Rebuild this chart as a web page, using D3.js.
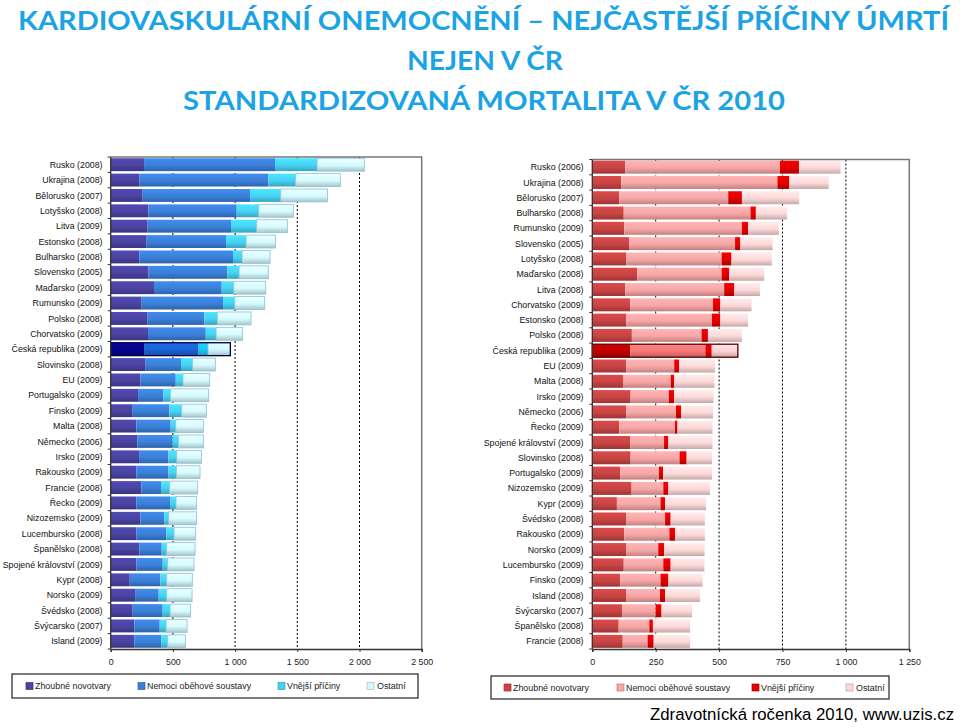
<!DOCTYPE html>
<html><head><meta charset="utf-8">
<script src="https://cdn.jsdelivr.net/npm/d3@7"></script>
<style>body{margin:0;background:#fff}svg{display:block}</style>
</head><body>
<script>
// ---------- DATA ----------
const titleLines = ["KARDIOVASKULÁRNÍ ONEMOCNĚNÍ – NEJČASTĚJŠÍ PŘÍČINY ÚMRTÍ", "NEJEN V ČR", "STANDARDIZOVANÁ MORTALITA V ČR 2010"];
const sourceText = "Zdravotnícká ročenka 2010, www.uzis.cz";
const seriesNames = ["Zhoubné novotvary", "Nemoci oběhové soustavy", "Vnější příčiny", "Ostatní"];
const highlightCountry = "Česká republika (2009)";

// Left panel
const leftCountries = ["Rusko (2008)","Ukrajina (2008)","Bělorusko (2007)","Lotyšsko (2008)","Litva (2009)","Estonsko (2008)","Bulharsko (2008)","Slovensko (2005)","Maďarsko (2009)","Rumunsko (2009)","Polsko (2008)","Chorvatsko (2009)","Česká republika (2009)","Slovinsko (2008)","EU (2009)","Portugalsko (2009)","Finsko (2009)","Malta (2008)","Německo (2006)","Irsko (2009)","Rakousko (2009)","Francie (2008)","Řecko (2009)","Nizozemsko (2009)","Lucembursko (2008)","Španělsko (2008)","Spojené království (2009)","Kypr (2008)","Norsko (2009)","Švédsko (2008)","Švýcarsko (2007)","Island (2009)"];
const leftZhoubne = [268,230,257,303,297,289,230,303,348,249,297,300,273,281,238,220,177,206,214,228,206,247,206,238,206,230,206,153,196,177,190,190];
const leftNemoci  = [1053,1037,863,710,670,638,753,635,544,654,456,464,434,284,285,203,295,276,284,236,258,158,271,193,241,180,212,246,190,241,204,215];
const leftVnejsi  = [338,220,247,177,207,161,73,94,97,94,104,83,75,94,58,57,99,41,46,67,64,69,48,35,62,40,40,51,64,59,51,53];
const leftOstatni = [380,359,375,278,246,236,225,235,257,241,271,214,180,182,215,308,198,222,201,198,190,225,166,225,174,228,212,206,204,166,169,142];
const leftTicks = [0,500,1000,1500,2000,2500];

// Right panel
const rightCountries = ["Rusko (2006)","Ukrajina (2008)","Bělorusko (2007)","Bulharsko (2008)","Rumunsko (2009)","Slovensko (2005)","Lotyšsko (2008)","Maďarsko (2008)","Litva (2008)","Chorvatsko (2009)","Estonsko (2008)","Polsko (2008)","Česká republika (2009)","EU (2009)","Malta (2008)","Irsko (2009)","Německo (2006)","Řecko (2009)","Spojené království (2009)","Slovinsko (2008)","Portugalsko (2009)","Nizozemsko (2009)","Kypr (2009)","Švédsko (2008)","Rakousko (2009)","Norsko (2009)","Lucembursko (2009)","Finsko (2009)","Island (2008)","Švýcarsko (2007)","Španělsko (2008)","Francie (2008)"];
const rightZhoubne = [130,114,106,124,126,145,134,177,130,149,134,156,150,134,121,151,134,106,149,151,110,155,97,133,126,133,124,110,133,117,104,120];
const rightNemoci  = [610,616,430,500,464,418,376,333,390,327,338,275,296,189,188,151,196,220,134,193,153,125,172,154,178,127,156,159,134,133,121,98];
const rightVnejsi  = [75,47,54,21,24,21,39,30,40,29,33,25,25,20,14,21,20,10,17,28,16,20,18,22,23,23,29,31,20,23,14,24];
const rightOstatni = [164,155,226,123,122,127,159,138,101,123,109,134,103,141,159,155,126,138,174,100,193,164,161,135,117,160,133,135,138,120,147,144];
const rightTicks = [0,250,500,750,1000,1250];
</script>
<script>
const W = 960, H = 728;
const svg = d3.select("body").append("svg").attr("width", W).attr("height", H);
const defs = svg.append("defs");
const fmt = d3.formatLocale({decimal: ",", thousands: "\u00a0", grouping: [3], currency: ["", ""]}).format(",");
const labelFont = "'Liberation Sans', Arial, sans-serif";

let gradCount = 0;
function grad(c) {
  const id = "g" + (gradCount++);
  const lg = defs.append("linearGradient").attr("id", id).attr("x1", 0).attr("y1", 0).attr("x2", 0).attr("y2", 1);
  lg.append("stop").attr("offset", "0%").attr("stop-color", d3.color(c).brighter(0.25));
  lg.append("stop").attr("offset", "55%").attr("stop-color", c);
  lg.append("stop").attr("offset", "100%").attr("stop-color", d3.color(c).darker(0.7));
  return "url(#" + id + ")";
}

// Title
const titleG = svg.append("g").attr("font-family", "Lato, 'Open Sans', sans-serif").attr("font-weight", "bold").attr("fill", "#1ba3e4");
titleG.append("text").attr("x", 18).attr("y", 29.5).attr("font-size", 27.5).attr("textLength", 931).attr("lengthAdjust", "spacingAndGlyphs").text(titleLines[0]);
titleG.append("text").attr("x", 407).attr("y", 70).attr("font-size", 27.5).attr("textLength", 156).attr("lengthAdjust", "spacingAndGlyphs").text(titleLines[1]);
titleG.append("text").attr("x", 183).attr("y", 110).attr("font-size", 27.5).attr("textLength", 602).attr("lengthAdjust", "spacingAndGlyphs").text(titleLines[2]);

svg.append("text").attr("x", 650).attr("y", 720).attr("font-family", labelFont).attr("font-size", 16.8)
  .attr("fill", "#000").text(sourceText);

function panel(o) {
  const n = o.countries.length;
  const rows = o.countries.map((c, i) => ({country: c, s0: o.series[0][i], s1: o.series[1][i], s2: o.series[2][i], s3: o.series[3][i]}));
  const keys = ["s0", "s1", "s2", "s3"];
  const stack = d3.stack().keys(keys)(rows);
  const x = d3.scaleLinear().domain([0, o.ticks[o.ticks.length - 1]]).range([o.x0, o.x1]);
  const y = d3.scaleBand().domain(o.countries).range([o.y0, o.y1]).paddingInner(o.pad).paddingOuter(o.pad / 2);
  const g = svg.append("g");

  g.selectAll("line.grid").data(o.ticks.slice(1, -1)).join("line")
    .attr("x1", d => x(d)).attr("x2", d => x(d)).attr("y1", o.y0).attr("y2", o.y1)
    .attr("stroke", "#000").attr("stroke-width", 1).attr("stroke-dasharray", "2,2");

  const fills = o.colors.map(grad);
  const hiFills = o.hiColors.map(grad);

  stack.forEach((layer, k) => {
    g.selectAll(null).data(layer).join("rect")
      .attr("x", d => x(d[0])).attr("width", d => x(d[1]) - x(d[0]))
      .attr("y", d => y(d.data.country)).attr("height", y.bandwidth())
      .attr("fill", d => d.data.country === o.highlight ? hiFills[k] : fills[k])
      .attr("stroke", k === 3 ? o.lastStroke : "none").attr("stroke-width", 0.8);
  });
  const hr = rows.find(r => r.country === o.highlight);
  g.append("rect").attr("x", x(0)).attr("y", y(hr.country))
    .attr("width", x(hr.s0 + hr.s1 + hr.s2 + hr.s3) - x(0)).attr("height", y.bandwidth())
    .attr("fill", "none").attr("stroke", o.hiStroke).attr("stroke-width", 1.3);

  g.append("path").attr("d", `M${o.x0},${o.y0}H${o.x1}V${o.y1}`).attr("fill", "none").attr("stroke", "#777").attr("stroke-width", 1.5);

  const xa = g.append("g").attr("transform", `translate(0,${o.y1})`)
    .call(d3.axisBottom(x).tickValues(o.ticks).tickFormat(fmt).tickSize(3).tickPadding(7));
  xa.select(".domain").attr("stroke", "#333").attr("stroke-width", 1.3);
  xa.selectAll(".tick line").attr("stroke", "#333");
  xa.selectAll("text").attr("font-family", labelFont).attr("font-size", 8.8).attr("fill", "#222");

  g.append("line").attr("x1", o.x0).attr("x2", o.x0).attr("y1", o.y0).attr("y2", o.y1).attr("stroke", "#333").attr("stroke-width", 1.3);
  g.selectAll("line.yt").data(d3.range(n + 1)).join("line")
    .attr("x1", o.x0 - 3).attr("x2", o.x0).attr("y1", i => o.y0 + i * y.step()).attr("y2", i => o.y0 + i * y.step())
    .attr("stroke", "#333");

  const clipId = "clip" + o.id;
  defs.append("clipPath").attr("id", clipId).append("rect").attr("x", o.clipX).attr("y", 0).attr("width", 480).attr("height", H);
  g.append("g").attr("clip-path", `url(#${clipId})`).selectAll("text").data(o.countries).join("text")
    .attr("x", o.labelX).attr("y", d => y(d) + y.bandwidth() / 2).attr("dy", "0.35em")
    .attr("text-anchor", "end").attr("font-family", labelFont).attr("font-size", 8.8).attr("fill", "#111")
    .text(d => d);

  const lg = svg.append("g");
  lg.append("rect").attr("x", o.leg.x).attr("y", o.leg.y).attr("width", o.leg.w).attr("height", o.leg.h)
    .attr("fill", "#fff").attr("stroke", "#222").attr("stroke-width", 1.2);
  seriesNames.forEach((s, k) => {
    lg.append("rect").attr("x", o.leg.sq[k]).attr("y", o.leg.y + o.leg.h / 2 - 3.5).attr("width", 7).attr("height", 7)
      .attr("fill", o.colors[k]).attr("stroke", d3.color(o.colors[k]).darker(0.8)).attr("stroke-width", 0.7);
    lg.append("text").attr("x", o.leg.tx[k]).attr("y", o.leg.y + o.leg.h / 2).attr("dy", "0.35em")
      .attr("font-family", labelFont).attr("font-size", 8.9).attr("fill", "#222").text(s);
  });
}

panel({
  id: "L", countries: leftCountries,
  series: [leftZhoubne, leftNemoci, leftVnejsi, leftOstatni], ticks: leftTicks,
  x0: 110.7, x1: 421.7, y0: 157, y1: 649, pad: 0.16, labelX: 102.5, clipX: 0,
  colors: ["#4a44a2", "#3b80d9", "#46d2f4", "#d6fbff"], hiColors: ["#05058a", "#1a64d4", "#18c8f6", "#d0f8ff"],
  lastStroke: "#8cc0d8", hiStroke: "#00004a", highlight: highlightCountry,
  leg: {x: 12, y: 674, w: 406, h: 24, sq: [26, 138, 278, 367], tx: [35, 147, 287, 377]}
});
panel({
  id: "R", countries: rightCountries,
  series: [rightZhoubne, rightNemoci, rightVnejsi, rightOstatni], ticks: rightTicks,
  x0: 592.3, x1: 909.3, y0: 159.5, y1: 649, pad: 0.15, labelX: 583.5, clipX: 483,
  colors: ["#c84444", "#f8a6a6", "#e20000", "#fdd8d8"], hiColors: ["#c00000", "#f47878", "#e00000", "#fdd0d0"],
  lastStroke: "none", hiStroke: "#5a0000", highlight: highlightCountry,
  leg: {x: 491, y: 676, w: 398, h: 23, sq: [504, 617, 752, 846], tx: [513, 626, 761, 856]}
});
</script>
</body></html>
